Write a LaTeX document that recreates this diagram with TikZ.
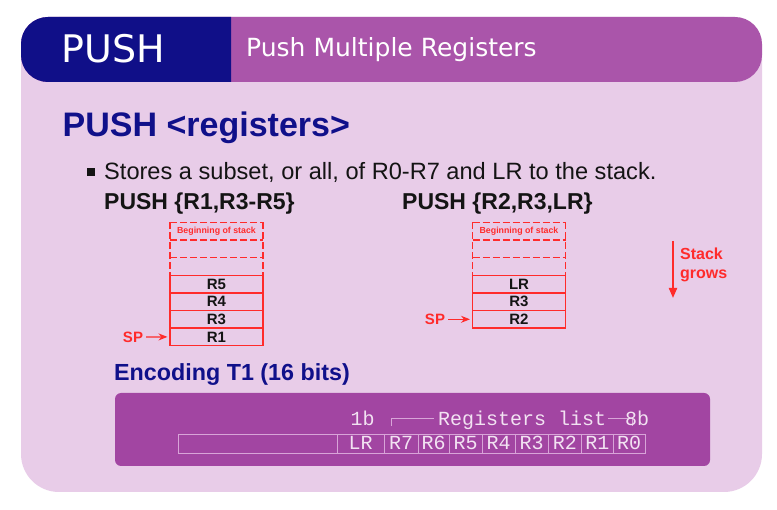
\documentclass[tikz,border=0pt]{standalone}
\usepackage{fontspec}
\setmainfont{Liberation Sans}
\newfontfamily\hdrfont{DejaVu Sans}
\newfontfamily\monofont{Liberation Mono}
\usetikzlibrary{arrows.meta}
\definecolor{panel}{HTML}{E8CCE8}
\definecolor{hdrblue}{HTML}{100F88}
\definecolor{hdrpurple}{HTML}{AA55AA}
\definecolor{encbox}{HTML}{A245A2}
\definecolor{stackred}{HTML}{FF2B2B}
\definecolor{encline}{HTML}{D8A4D8}
\definecolor{enctext}{HTML}{F2E2F2}
\definecolor{titleblue}{HTML}{10108A}
\definecolor{bodytext}{HTML}{141414}
\tikzset{
 hdrtext/.style={text=white, inner sep=0, anchor=base west},
 bodylabel/.style={inner sep=0, anchor=base west, text=bodytext},
 stackrow/.style={minimum width=93pt, minimum height=17.6pt, inner sep=0, outer sep=0, anchor=north west, font=\bfseries\fontsize{15}{15}\selectfont, text=bodytext},
 solidrow/.style={stackrow, draw=stackred, line width=1.3pt},
 dashrow/.style={stackrow, font=\bfseries\fontsize{8.8}{9}\selectfont, text=stackred},
 dashline/.style={draw=stackred, line width=1.3pt, dash pattern=on 7pt off 3pt},
 splabel/.style={text=stackred, font=\bfseries\fontsize{15}{15}\selectfont, inner sep=0},
 sparrow/.style={draw=stackred, line width=1.3pt, -{Stealth[length=9pt,width=7pt]}},
 growlabel/.style={text=stackred, font=\bfseries\fontsize{16}{16}\selectfont, inner sep=0, anchor=base west},
 enccell/.style={draw=encline, line width=0.8pt, minimum height=19pt, inner sep=0, outer sep=0, anchor=north west, text=enctext, font=\monofont\fontsize{20}{20}\selectfont, text height=13pt, text depth=0pt},
 enclabel/.style={text=enctext, font=\monofont\fontsize{20}{20}\selectfont, inner sep=0, anchor=base west},
 encbracket/.style={draw=encline, line width=0.8pt},
}
\begin{document}
\begin{tikzpicture}[x=1pt,y=-1pt]
\useasboundingbox (0,0) rectangle (777,510);
\fill[white] (0,0) rectangle (777,510);
% panel
\fill[panel, rounded corners=38pt] (21,17) rectangle (762,492);
% header
\fill[hdrpurple, rounded corners=27pt] (21,17) rectangle (762,82);
\fill[hdrblue] (231,17) [rounded corners=27pt] -- (21,17) -- (21,82) [sharp corners] -- (231,82) -- cycle;
\node[hdrtext, font=\hdrfont\fontsize{38}{40}\selectfont] (hpush) at (61.5,62.5) {PUSH};
\node[hdrtext, font=\hdrfont\fontsize{25}{28}\selectfont] (hsub) at (246,56.7) {Push Multiple Registers};
% title and bullet
\node[inner sep=0, anchor=base west, text=titleblue, font=\bfseries\fontsize{34}{36}\selectfont] (title) at (62.5,136.7) {PUSH <registers>};
\node[fill=bodytext, minimum size=8pt, inner sep=0] (bullet) at (91,172) {};
\node[bodylabel, font=\fontsize{23.6}{26}\selectfont] (stores) at (104,179.3) {Stores a subset, or all, of R0-R7 and LR to the stack.};
\node[bodylabel, font=\bfseries\fontsize{23}{24}\selectfont] (pushA) at (104,210) {PUSH \{R1,R3-R5\}};
\node[bodylabel, font=\bfseries\fontsize{23}{24}\selectfont] (pushB) at (402,210) {PUSH \{R2,R3,LR\}};
% left stack
\node[dashrow] (ls1) at (170,222.5) {Beginning of stack};
\node[stackrow] (ls2) at (170,240.1) {};
\node[stackrow] (ls3) at (170,257.7) {};
\draw[dashline] (ls1.north west) -- (ls1.north east);
\draw[dashline] (ls1.south west) -- (ls1.south east);
\draw[dashline] (ls2.south west) -- (ls2.south east);
\draw[dashline] (ls1.north west) -- (ls3.south west);
\draw[dashline] (ls1.north east) -- (ls3.south east);
\node[solidrow] (ls4) at (170,275.3) {R5};
\node[solidrow] (ls5) at (170,292.9) {R4};
\node[solidrow] (ls6) at (170,310.5) {R3};
\node[solidrow] (ls7) at (170,328.1) {R1};
\node[splabel] (spL) at (133,337) {SP};
\draw[sparrow, shorten <=3pt, shorten >=2.5pt] (spL.east) -- (ls7.west);
% right stack
\node[dashrow] (rs1) at (472.5,222.5) {Beginning of stack};
\node[stackrow] (rs2) at (472.5,240.1) {};
\node[stackrow] (rs3) at (472.5,257.7) {};
\draw[dashline] (rs1.north west) -- (rs1.north east);
\draw[dashline] (rs1.south west) -- (rs1.south east);
\draw[dashline] (rs2.south west) -- (rs2.south east);
\draw[dashline] (rs1.north west) -- (rs3.south west);
\draw[dashline] (rs1.north east) -- (rs3.south east);
\node[solidrow] (rs4) at (472.5,275.3) {LR};
\node[solidrow] (rs5) at (472.5,292.9) {R3};
\node[solidrow] (rs6) at (472.5,310.5) {R2};
\node[splabel] (spR) at (435,319.3) {SP};
\draw[sparrow, shorten <=3pt, shorten >=2.5pt] (spR.east) -- (rs6.west);
% stack grows
\coordinate (g1) at (673,241);
\coordinate (g2) at (673,298);
\draw[draw=stackred, line width=2pt, -{Triangle[length=10pt,width=8pt]}] (g1) -- (g2);
\node[growlabel] (stk) at (680,259.3) {Stack};
\node[growlabel] (grw) at (680,278.8) {grows};
% encoding
\node[inner sep=0, anchor=base west, text=titleblue, font=\bfseries\fontsize{23.3}{26}\selectfont] (enc) at (114,380.7) {Encoding T1 (16 bits)};
\fill[encbox, rounded corners=6pt] (115,393) rectangle (710,466);
\coordinate (b1) at (391,426);
\coordinate (b2) at (391,418);
\coordinate (b3) at (434,418);
\coordinate (b4) at (608,418);
\coordinate (b5) at (632,418);
\coordinate (b6) at (632,426);
\draw[encbracket] (b1) -- (b2) -- (b3);
\draw[encbracket] (b4) -- (b5) -- (b6);
\node[enclabel, anchor=base] (lb1) at (362.5,425.7) {1b};
\node[enclabel] (lreg) at (438,425.7) {Registers list};
\node[enclabel] (lb8) at (625,425.7) {8b};
\node[enccell, minimum width=159pt] (c0) at (178,434) {};
\node[enccell, minimum width=47pt] (cLR) at (337,434) {LR};
\node[enccell, minimum width=34pt] (c7) at (384,434) {R7};
\node[enccell, minimum width=31pt] (c6) at (418,434) {R6};
\node[enccell, minimum width=33pt] (c5) at (449,434) {R5};
\node[enccell, minimum width=33pt] (c4) at (482,434) {R4};
\node[enccell, minimum width=33pt] (c3) at (515,434) {R3};
\node[enccell, minimum width=33.5pt] (c2) at (548,434) {R2};
\node[enccell, minimum width=31.5pt] (c1) at (581.5,434) {R1};
\node[enccell, minimum width=32pt] (cR0) at (613,434) {R0};
\end{tikzpicture}
\end{document}
